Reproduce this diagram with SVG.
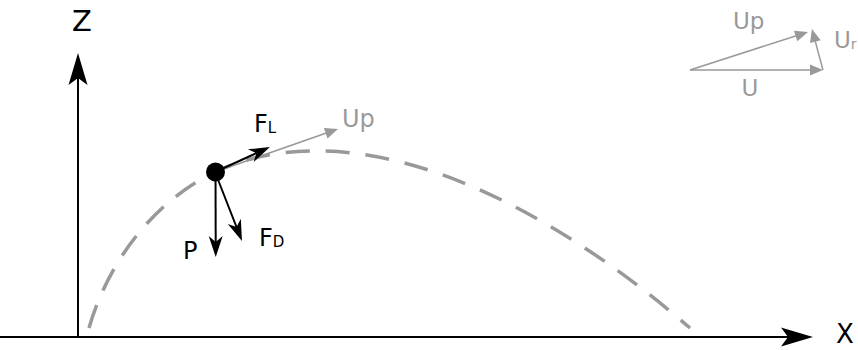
<svg xmlns="http://www.w3.org/2000/svg" width="858" height="350" viewBox="0 0 858 350">
  <style>
    .t{font-family:"DejaVu Sans","Liberation Sans",sans-serif;}
    .blk{fill:#000;}
    .gry{fill:#999;}
    .axis{stroke:#000;stroke-width:2;fill:none;}
    .force{stroke:#000;stroke-width:2;fill:none;}
    .vel{stroke:#999;stroke-width:1.5;fill:none;}
  </style>
  <defs>
    <marker id="axhead" markerUnits="userSpaceOnUse" orient="auto" markerWidth="40" markerHeight="24" refX="0" refY="0" viewBox="-10 -12 40 24" overflow="visible">
      <path d="M25,0 L-7,-9.5 L0,0 L-7,9.5 Z" fill="#000"/>
    </marker>
    <marker id="fhead" markerUnits="userSpaceOnUse" orient="auto" markerWidth="30" markerHeight="16" refX="0" refY="0" viewBox="-8 -8 30 16" overflow="visible">
      <path d="M15,0 L-6,-7 L0,0 L-6,7 Z" fill="#000"/>
    </marker>
    <marker id="ghead" markerUnits="userSpaceOnUse" orient="auto" markerWidth="20" markerHeight="12" refX="0" refY="0" viewBox="-10 -6 20 12" overflow="visible">
      <path d="M4,0 L-9,-5.5 L-9,5.5 Z" fill="#999"/>
    </marker>
  </defs>

  <g id="trajectory">
    <path d="M89,328 C110,255 160,198 215,172 C250,155 290,150 325,151 C460,155 600,250 690,328" fill="none" stroke="#999" stroke-width="3.5" stroke-dasharray="24 16"/>
  </g>

  <g id="connectors">
    <line class="axis" x1="78" y1="338" x2="78" y2="78" marker-end="url(#axhead)"/>
    <line class="axis" x1="0" y1="337" x2="788" y2="337" marker-end="url(#axhead)"/>
    <line class="vel" x1="215" y1="172" x2="334.2" y2="130.3" marker-end="url(#ghead)"/>
    <line class="force" x1="215" y1="172" x2="256.3" y2="153.2" marker-end="url(#fhead)"/>
    <line class="force" x1="215.5" y1="172" x2="215.7" y2="242" marker-end="url(#fhead)"/>
    <line class="force" x1="215" y1="172" x2="236.5" y2="227" marker-end="url(#fhead)"/>
    <line class="vel" x1="690" y1="70" x2="819" y2="70" marker-end="url(#ghead)"/>
    <line class="vel" x1="690" y1="70" x2="804.2" y2="33.2" marker-end="url(#ghead)"/>
    <line class="vel" x1="823" y1="70" x2="813" y2="32.9" marker-end="url(#ghead)"/>
  </g>

  <g id="particle">
    <circle cx="215.5" cy="172" r="9.5" fill="#000"/>
  </g>

  <g id="axis-z-label"><text class="t blk" x="82" y="31" font-size="29" text-anchor="middle">Z</text></g>
  <g id="axis-x-label"><text class="t blk" x="845" y="343" font-size="26" text-anchor="middle">X</text></g>

  <g id="label-FL"><text class="t blk" x="254" y="132" font-size="24">F<tspan font-size="15" dy="1">L</tspan></text></g>
  <g id="label-Up"><text class="t gry" x="342" y="127" font-size="24">Up</text></g>
  <g id="label-P"><text class="t blk" x="183" y="259" font-size="24">P</text></g>
  <g id="label-FD"><text class="t blk" x="259" y="246" font-size="24">F<tspan font-size="15" dy="1">D</tspan></text></g>

  <g id="label-Up-top"><text class="t gry" x="733" y="29" font-size="23">Up</text></g>
  <g id="label-Ur"><text class="t gry" x="834" y="48" font-size="23">U<tspan font-size="14" dy="1">r</tspan></text></g>
  <g id="label-U"><text class="t gry" x="750" y="96" font-size="23" text-anchor="middle">U</text></g>
</svg>
